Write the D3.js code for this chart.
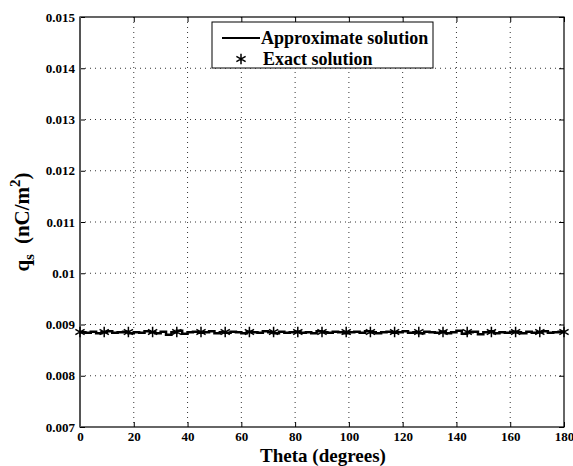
<!DOCTYPE html>
<html>
<head>
<meta charset="utf-8">
<script src="https://cdn.jsdelivr.net/npm/d3@7"></script>
<style>
  body { margin: 0; background: #fff; }
  svg text { font-family: "Liberation Serif", "Times New Roman", Times, "DejaVu Serif", serif; font-weight: bold; fill: #000; }
</style>
</head>
<body>
<div id="chart"></div>
<script>
// x ticks and y ticks
const xTicks = [0, 20, 40, 60, 80, 100, 120, 140, 160, 180];
const yTicks = [0.007, 0.008, 0.009, 0.01, 0.011, 0.012, 0.013, 0.014, 0.015];
const yTickLabels = ["0.007", "0.008", "0.009", "0.01", "0.011", "0.012", "0.013", "0.014", "0.015"];

// approximate solution, every 2 degrees
const approxTheta = d3.range(0, 181, 2);
const approxValues = [
  0.00885, 0.00884, 0.00886, 0.00883, 0.00885, 0.00887, 0.00884, 0.00885, 0.00886, 0.00883,
  0.00885, 0.00884, 0.00887, 0.00885, 0.00883, 0.00886, 0.00880, 0.00885, 0.00888, 0.00882,
  0.00885, 0.00886, 0.00884, 0.00885, 0.00887, 0.00883, 0.00885, 0.00884, 0.00886, 0.00885,
  0.00883, 0.00886, 0.00885, 0.00884, 0.00887, 0.00885, 0.00883, 0.00886, 0.00884, 0.00885,
  0.00886, 0.00884, 0.00885, 0.00883, 0.00887, 0.00885, 0.00884, 0.00886, 0.00885, 0.00883,
  0.00885, 0.00886, 0.00884, 0.00887, 0.00885, 0.00883, 0.00885, 0.00886, 0.00884, 0.00885,
  0.00887, 0.00884, 0.00885, 0.00883, 0.00886, 0.00885, 0.00884, 0.00886, 0.00883, 0.00885,
  0.00888, 0.00882, 0.00885, 0.00886, 0.00881, 0.00885, 0.00887, 0.00883, 0.00885, 0.00884,
  0.00886, 0.00885, 0.00883, 0.00886, 0.00884, 0.00885, 0.00887, 0.00884, 0.00885, 0.00886,
  0.00885
];

// exact solution, every 9 degrees
const exactTheta = [0, 9, 18, 27, 36, 45, 54, 63, 72, 81, 90, 99, 108, 117, 126, 135, 144, 153, 162, 171, 180];
const exactValues = [0.008854, 0.008854, 0.008854, 0.008854, 0.008854, 0.008854, 0.008854,
  0.008854, 0.008854, 0.008854, 0.008854, 0.008854, 0.008854, 0.008854, 0.008854, 0.008854,
  0.008854, 0.008854, 0.008854, 0.008854, 0.008854];

const W = 573, H = 466;
const margin = { top: 17, right: 9, bottom: 39, left: 80 };
const width = W - margin.left - margin.right;
const height = H - margin.top - margin.bottom;

const svg = d3.select("#chart").append("svg")
  .attr("width", W).attr("height", H);

const g = svg.append("g")
  .attr("transform", `translate(${margin.left},${margin.top})`);

const x = d3.scaleLinear().domain([0, 180]).range([0, width]);
const y = d3.scaleLinear().domain([0.007, 0.015]).range([height, 0]);

// grid
g.append("g").selectAll("line").data(xTicks.slice(1, -1)).enter().append("line")
  .attr("x1", d => x(d)).attr("x2", d => x(d))
  .attr("y1", 0).attr("y2", height)
  .attr("stroke", "#000").attr("stroke-width", 0.8).attr("stroke-dasharray", "1,4");
g.append("g").selectAll("line").data(yTicks.slice(1, -1)).enter().append("line")
  .attr("x1", 0).attr("x2", width)
  .attr("y1", d => y(d)).attr("y2", d => y(d))
  .attr("stroke", "#000").attr("stroke-width", 0.8).attr("stroke-dasharray", "1,4");

// axes (ticks pointing inside)
const tickLen = 5;
g.append("g").attr("class", "axis")
  .attr("transform", `translate(0,${height})`)
  .call(d3.axisBottom(x).tickValues(xTicks).tickSize(-tickLen).tickPadding(5).tickFormat(d3.format("d")))
  .call(a => a.select(".domain").remove());
g.append("g").attr("class", "axis")
  .call(d3.axisTop(x).tickValues(xTicks).tickSize(-tickLen).tickFormat(""))
  .call(a => a.select(".domain").remove());
g.append("g").attr("class", "axis")
  .call(d3.axisLeft(y).tickValues(yTicks).tickSize(-tickLen).tickPadding(5).tickFormat((d, i) => yTickLabels[i]))
  .call(a => a.select(".domain").remove());
g.append("g").attr("class", "axis")
  .attr("transform", `translate(${width},0)`)
  .call(d3.axisRight(y).tickValues(yTicks).tickSize(-tickLen).tickFormat(""))
  .call(a => a.select(".domain").remove());

g.selectAll(".axis").attr("font-family", null).attr("font-size", null);
g.selectAll(".axis line").attr("stroke", "#000").attr("stroke-width", 1);
g.selectAll(".axis text")
  .style("font-size", "13px")
  .attr("fill", "#000");

// frame
g.append("rect")
  .attr("x", 0).attr("y", 0).attr("width", width).attr("height", height)
  .attr("fill", "none").attr("stroke", "#000").attr("stroke-width", 1.2);
g.append("line")
  .attr("x1", 0).attr("x2", 0).attr("y1", 0).attr("y2", height)
  .attr("stroke", "#555").attr("stroke-width", 2);

// approximate solution line
const line = d3.line()
  .x((d, i) => x(approxTheta[i]))
  .y(d => y(d))
  .curve(d3.curveStepAfter);

g.append("path")
  .datum(approxValues)
  .attr("fill", "none")
  .attr("stroke", "#000")
  .attr("stroke-width", 2.5)
  .attr("d", line);

// exact solution markers
const star = d3.symbol().type(d3.symbolAsterisk).size(80);
g.append("g").selectAll("path").data(exactValues).enter().append("path")
  .attr("transform", (d, i) => `translate(${x(exactTheta[i])},${y(d)})`)
  .attr("d", star)
  .attr("fill", "none")
  .attr("stroke", "#000")
  .attr("stroke-width", 1.5);

// legend
const legend = svg.append("g").attr("transform", "translate(212,22)");
legend.append("rect")
  .attr("width", 221).attr("height", 46)
  .attr("fill", "#fff").attr("stroke", "#000").attr("stroke-width", 1);
legend.append("line")
  .attr("x1", 10).attr("x2", 48).attr("y1", 16).attr("y2", 16)
  .attr("stroke", "#000").attr("stroke-width", 2);
legend.append("text")
  .attr("x", 49).attr("y", 22)
  .style("font-size", "18px")
  .text("Approximate solution");
legend.append("path")
  .attr("transform", "translate(29,37)")
  .attr("d", star)
  .attr("fill", "none").attr("stroke", "#000").attr("stroke-width", 1.5);
legend.append("text")
  .attr("x", 51).attr("y", 43)
  .style("font-size", "18px")
  .text("Exact solution");

// axis titles
svg.append("text")
  .attr("x", 323).attr("y", 462)
  .attr("text-anchor", "middle")
  .style("font-size", "19px")
  .text("Theta (degrees)");

const yt = svg.append("text")
  .attr("transform", `translate(29,${margin.top + height / 2}) rotate(-90)`)
  .attr("text-anchor", "middle")
  .style("font-size", "21px");
yt.append("tspan").text("q");
yt.append("tspan").attr("dy", 5).style("font-size", "15px").text("s");
yt.append("tspan").attr("dy", -5).attr("dx", 10).text("(nC/m");
yt.append("tspan").attr("dy", -9).style("font-size", "15px").text("2");
yt.append("tspan").attr("dy", 9).text(")");
</script>
</body>
</html>
